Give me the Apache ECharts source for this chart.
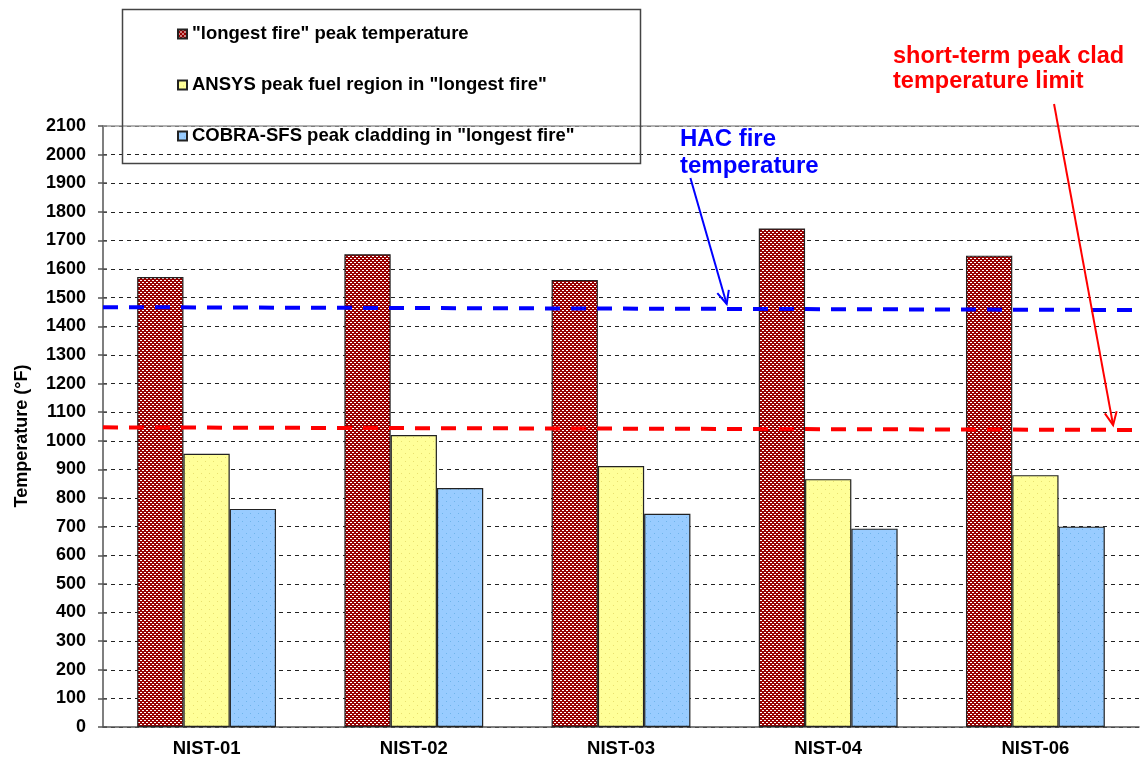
<!DOCTYPE html>
<html><head><meta charset="utf-8">
<script src="https://cdn.jsdelivr.net/npm/echarts@6/dist/echarts.min.js"></script>
<style>html,body{margin:0;padding:0;background:#fff}#c{width:1142px;height:763px}</style>
</head><body><div id="c"></div>
<script>
const categories = ['NIST-01','NIST-02','NIST-03','NIST-04','NIST-06'];
const longestFirePeak = [1572, 1652, 1562, 1742, 1647];
const ansysFuelPeak = [955, 1020, 912, 866, 880];
const cobraCladPeak = [762, 835, 745, 693, 700];
const seriesNames = ['"longest fire" peak temperature','ANSYS peak fuel region in "longest fire"','COBRA-SFS peak cladding in "longest fire"'];
const hacFireLine = [[0, 1467], [1, 1457]];
const cladLimitLine = [[0, 1047], [1, 1038]];
const yTicks = {min: 0, max: 2100, step: 100};

function pattern(bg, dot, w, h, pts){
  const c = document.createElement('canvas'); c.width = w; c.height = h;
  const g = c.getContext('2d'); g.fillStyle = bg; g.fillRect(0,0,w,h);
  g.fillStyle = dot; pts.forEach(p => g.fillRect(p[0], p[1], p[2]||1, p[3]||1));
  return {image: c, repeat: 'repeat'};
}
const redPat = pattern('#990000', '#ffffff', 4, 4, [[0,0,2,1],[2,2,2,1]]);
const yelPat = pattern('#ffff99', '#e8e070', 8, 8, [[1,1],[5,5]]);
const bluPat = pattern('#99ccff', '#6fb4ea', 8, 8, [[2,1],[6,5]]);

const chart = echarts.init(document.getElementById('c'), null, {renderer: 'canvas'});
const FONT = 'Liberation Sans, Arial, sans-serif';
const barStyle = c => ({color: c, borderColor: '#222', borderWidth: 1.2});

chart.setOption({
  backgroundColor: '#fff',
  animation: false,
  grid: {left: 103, right: 3, top: 126, bottom: 36, containLabel: false, outerBoundsMode: 'none'},
  legend: {
    orient: 'vertical', left: 172, top: 19, itemWidth: 9, itemHeight: 9, itemGap: 31,
    icon: 'rect',
    textStyle: {fontFamily: FONT, fontWeight: 'bold', fontSize: 18.5, color: '#000', lineHeight: 20},
    data: seriesNames
  },
  xAxis: [{
    type: 'category', data: categories,
    axisLine: {lineStyle: {color: '#555', width: 1.5}},
    axisTick: {length: 6, lineStyle: {color: '#555', width: 1.5}},
    axisLabel: {fontFamily: FONT, fontWeight: 'bold', fontSize: 18.5, color: '#000', margin: 12}
  }, {
    type: 'value', min: 0, max: 1, show: false
  }],
  yAxis: [{
    type: 'value', min: yTicks.min, max: yTicks.max, interval: yTicks.step,
    axisLine: {show: true, lineStyle: {color: '#555', width: 1.5}},
    axisTick: {show: true, length: 5, lineStyle: {color: '#555', width: 1.5}},
    axisLabel: {fontFamily: FONT, fontWeight: 'bold', fontSize: 18, color: '#000', margin: 17, formatter: v => String(v)},
    splitLine: {show: true, lineStyle: {color: '#222', width: 1, type: [4, 4]}}
  }, {
    type: 'value', min: yTicks.min, max: yTicks.max, interval: yTicks.step, position: 'left',
    axisLine: {show: false}, axisLabel: {show: false}, splitLine: {show: false},
    axisTick: {show: true, inside: true, length: 4, lineStyle: {color: '#555', width: 1.5}}
  }],
  series: [
    {name: seriesNames[0], type: 'bar', data: longestFirePeak, barGap: '0%', barCategoryGap: '33%', itemStyle: barStyle(redPat),
     markLine: {silent: true, symbol: 'none', label: {show: false},
       lineStyle: {color: '#999', type: 'solid', width: 1.5}, data: [{yAxis: yTicks.max}]}},
    {name: seriesNames[1], type: 'bar', data: ansysFuelPeak, barGap: '0%', barCategoryGap: '33%', itemStyle: barStyle(yelPat)},
    {name: seriesNames[2], type: 'bar', data: cobraCladPeak, barGap: '0%', barCategoryGap: '33%', itemStyle: barStyle(bluPat)},
    {name: 'HAC fire temperature', type: 'line', xAxisIndex: 1, yAxisIndex: 0, data: hacFireLine,
     symbol: 'none', silent: true, z: 5, lineStyle: {color: '#0000ff', width: 4, type: [15, 11]}},
    {name: 'short-term peak clad temperature limit', type: 'line', xAxisIndex: 1, yAxisIndex: 0, data: cladLimitLine,
     symbol: 'none', silent: true, z: 5, lineStyle: {color: '#ff0000', width: 4, type: [15, 11]}}
  ]
});

function px(frac, val){ return chart.convertToPixel({xAxisIndex: 1, yAxisIndex: 0}, [frac, val]); }
function arrow(from, to, color){
  const dx = to[0]-from[0], dy = to[1]-from[1], L = Math.hypot(dx, dy);
  const ux = dx/L, uy = dy/L, h = 13, w = 6;
  const a = [to[0]-ux*h - uy*w, to[1]-uy*h + ux*w];
  const b = [to[0]-ux*h + uy*w, to[1]-uy*h - ux*w];
  return [
    {type: 'line', shape: {x1: from[0], y1: from[1], x2: to[0], y2: to[1]}, style: {stroke: color, lineWidth: 2}, z: 20},
    {type: 'polyline', shape: {points: [a, to, b]}, style: {stroke: color, lineWidth: 2, fill: null}, z: 20}
  ];
}
const blueFrom = px(0.567, 1918), blueTo = px(0.602, 1478);
const redFrom = px(0.918, 2177), redTo = px(0.975, 1055);
chart.setOption({
  graphic: [
    {type: 'rect', left: 120, top: 7, shape: {width: 518, height: 154}, style: {fill: 'none', stroke: '#444', lineWidth: 1.5}, z: 10},
    {type: 'text', x: 22, y: 436, rotation: Math.PI/2, z: 20,
     style: {text: 'Temperature (°F)', fill: '#000', font: 'bold 18px ' + FONT, align: 'center', verticalAlign: 'middle'}},
    {type: 'text', left: 680, top: 126, z: 20,
     style: {text: 'HAC fire\ntemperature', fill: '#0000ff', font: 'bold 24px ' + FONT, lineHeight: 27}},
    {type: 'text', left: 893, top: 44, z: 20,
     style: {text: 'short-term peak clad\ntemperature limit', fill: '#ff0000', font: 'bold 23.5px ' + FONT, lineHeight: 25}},
    ...arrow(blueFrom, blueTo, '#0000ff'),
    ...arrow(redFrom, redTo, '#ff0000')
  ]
});
</script></body></html>
